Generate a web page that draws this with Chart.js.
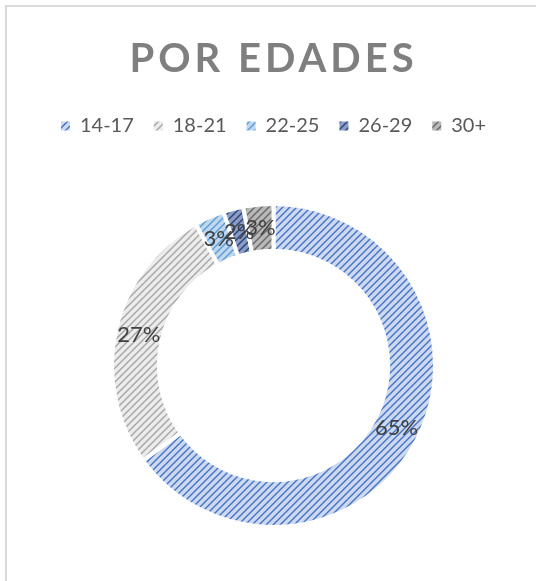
<!DOCTYPE html>
<html><head><meta charset="utf-8">
<script src="https://cdn.jsdelivr.net/npm/chart.js@4"></script>
<style>
html,body{margin:0;padding:0;background:#fff;overflow:hidden}
#marco{position:absolute;left:5px;top:5px;width:600px;height:600px;border-left:2px solid #dadada;border-top:2px solid #dadada}
#wrap{position:absolute;left:0;top:0;width:536px;height:581px}
</style></head><body>
<div id="marco"></div>
<div id="wrap"><canvas id="ch"></canvas></div>
<script>
const $=id=>document.getElementById(id);
const CATS=["14-17","18-21","22-25","26-29","30+"];
const VALS=[65,27,3,2,3];
const ETIQ=["65%","27%","3%","2%","3%"];
const FONDO=["#ccd9f1","#ececec","#bfd8f0","#8c9cc4","#b8b8b8"];
const RAYA=["#4472c4","#a5a5a5","#5b9bd5","#264478","#666666"];

// trama diagonal tipo Excel
function trama(fondo,raya){
  const n=7,c=document.createElement("canvas");c.width=c.height=n;
  const x=c.getContext("2d");
  x.fillStyle=fondo;x.fillRect(0,0,n,n);
  x.strokeStyle=raya;x.lineWidth=1.4;
  x.beginPath();
  x.moveTo(-1,n+1);x.lineTo(n+1,-1);
  x.moveTo(-1,1);x.lineTo(1,-1);
  x.moveTo(n-1,n+1);x.lineTo(n+1,n-1);
  x.stroke();
  return x.createPattern(c,"repeat");
}

const etiquetas={id:"etiquetas",afterDatasetsDraw(ch){
  const ctx=ch.ctx,meta=ch.getDatasetMeta(0);
  ctx.save();
  ctx.font="22px Lato";ctx.fillStyle="#404040";ctx.textAlign="center";ctx.textBaseline="middle";
  meta.data.forEach((a,i)=>{const p=a.tooltipPosition();ctx.fillText(ETIQ[i],p.x,p.y);});
  ctx.restore();
}};

// espaciado de letras solo en el título
const espaciado={id:"espaciado",beforeDraw(ch){
  const t=ch.titleBlock;if(!t||t._esp)return;
  const d=t.draw.bind(t);
  t.draw=function(){ch.ctx.save();ch.ctx.letterSpacing="4px";d();ch.ctx.restore();};
  t._esp=true;
}};

// hueco bajo la leyenda
const hueco={id:"hueco",beforeInit(ch){
  const f=ch.legend.fit;
  ch.legend.fit=function(){f.bind(ch.legend)();this.height+=56;};
}};

new Chart($("ch"),{type:"doughnut",
  data:{labels:CATS,datasets:[{data:VALS,backgroundColor:FONDO.map((f,i)=>trama(f,RAYA[i])),borderColor:"#fff",borderWidth:4}]},
  options:{responsive:true,maintainAspectRatio:false,animation:false,cutout:"71%",
    layout:{padding:{left:16,right:5,top:0,bottom:52}},
    plugins:{
      title:{display:true,text:"POR EDADES",color:"#7f7f7f",font:{family:"Lato",size:40,weight:"bold"},padding:{top:35,bottom:13}},
      legend:{position:"top",labels:{boxWidth:9,boxHeight:9,color:"#595959",font:{family:"Lato",size:20},padding:20,
        generateLabels(ch){const l=Chart.overrides.doughnut.plugins.legend.labels.generateLabels(ch);l.forEach(x=>{x.lineWidth=0;});return l;}}},
      tooltip:{enabled:false}}},
  plugins:[etiquetas,espaciado,hueco]});
</script>
</body></html>
